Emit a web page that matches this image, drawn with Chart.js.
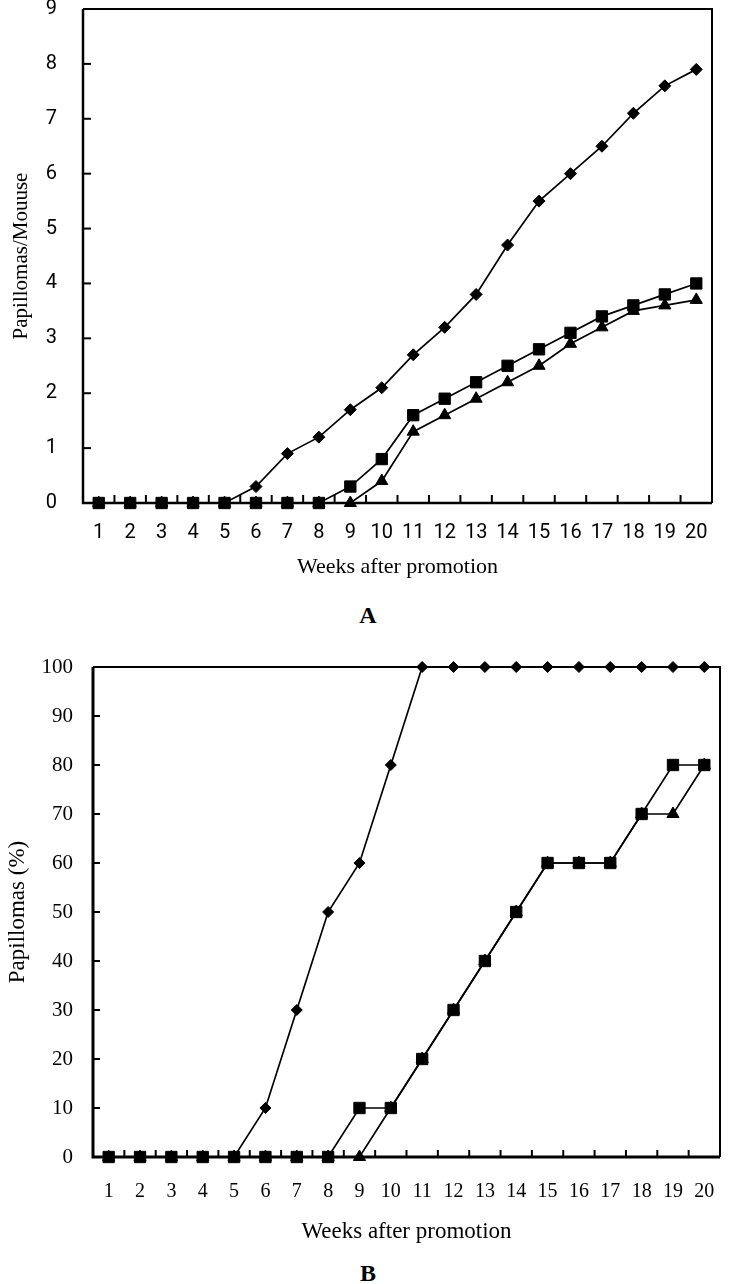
<!DOCTYPE html>
<html>
<head>
<meta charset="utf-8">
<script src="https://cdn.jsdelivr.net/npm/chart.js@4/dist/chart.umd.min.js"></script>
<style>
  html, body { margin: 0; padding: 0; background: #fff; }
  #page { position: relative; width: 729px; height: 1284px; overflow: hidden; }
  .box { position: absolute; left: 0; width: 729px; }
  .letter {
    position: absolute; width: 80px; margin-left: -40px; text-align: center;
    font-family: "Liberation Serif", "Times New Roman", serif; font-weight: bold; font-size: 24px;
    line-height: 24px; color: #000;
  }
</style>
</head>
<body>
<div id="page">
  <div class="box" style="top:0; height:590px;"><canvas id="chartA"></canvas></div>
  <div class="letter" style="left:368px; top:603px;">A</div>
  <div class="box" style="top:640px; height:612px;"><canvas id="chartB"></canvas></div>
  <div class="letter" style="left:368px; top:1261px;">B</div>
</div>
<script>
// weeks after promotion
const weeks = ['1','2','3','4','5','6','7','8','9','10','11','12','13','14','15','16','17','18','19','20'];

// A: papillomas per mouse
const aDiamond  = [0, 0, 0, 0, 0, 0.3, 0.9, 1.2, 1.7, 2.1, 2.7, 3.2, 3.8, 4.7, 5.5, 6.0, 6.5, 7.1, 7.6, 7.9];
const aSquare   = [0, 0, 0, 0, 0, 0, 0, 0, 0.3, 0.8, 1.6, 1.9, 2.2, 2.5, 2.8, 3.1, 3.4, 3.6, 3.8, 4.0];
const aTriangle = [0, 0, 0, 0, 0, 0, 0, 0, 0, 0.4, 1.3, 1.6, 1.9, 2.2, 2.5, 2.9, 3.2, 3.5, 3.6, 3.7];

// B: papilloma incidence (%)
const bDiamond  = [0, 0, 0, 0, 0, 10, 30, 50, 60, 80, 100, 100, 100, 100, 100, 100, 100, 100, 100, 100];
const bSquare   = [0, 0, 0, 0, 0, 0, 0, 0, 10, 10, 20, 30, 40, 50, 60, 60, 60, 70, 80, 80];
const bTriangle = [0, 0, 0, 0, 0, 0, 0, 0, 0, 10, 20, 30, 40, 50, 60, 60, 60, 70, 70, 80];

const SERIF = '"Liberation Serif", "Times New Roman", serif';
const NARROW = '"Liberation Sans Narrow", "Arial Narrow", "Roboto", sans-serif';

// box around the plot with tick marks pointing inwards
const framePlugin = {
    id: 'frame',
    beforeDatasetsDraw(chart, args, opts) {
        const { ctx, chartArea: a, scales: { x, y } } = chart;
        ctx.save();
        ctx.strokeStyle = '#000';
        ctx.lineCap = 'butt';

        // tick marks
        ctx.lineWidth = 2;
        const tl = opts.tickLength || 8;
        y.ticks.forEach(t => {
            const py = y.getPixelForValue(t.value);
            if (Math.abs(py - a.top) < 1 || Math.abs(py - a.bottom) < 1) return;
            ctx.beginPath();
            ctx.moveTo(a.left, py);
            ctx.lineTo(a.left + tl, py);
            ctx.stroke();
        });
        for (let i = 0; i < weeks.length - 1; i++) {
            const px = (x.getPixelForValue(i) + x.getPixelForValue(i + 1)) / 2;
            ctx.beginPath();
            ctx.moveTo(px, a.bottom);
            ctx.lineTo(px, a.bottom - tl);
            ctx.stroke();
        }

        // top and right
        ctx.lineWidth = opts.thin || 2;
        ctx.beginPath();
        ctx.moveTo(a.left, a.top);
        ctx.lineTo(a.right, a.top);
        ctx.lineTo(a.right, a.bottom);
        ctx.stroke();

        // axes
        ctx.lineWidth = opts.thick || 2.5;
        ctx.beginPath();
        ctx.moveTo(a.left, a.top);
        ctx.lineTo(a.left, a.bottom);
        ctx.lineTo(a.right, a.bottom);
        ctx.stroke();
        ctx.restore();
    }
};

function series(data, style, radius, order) {
    return {
        data: data,
        borderColor: '#000',
        backgroundColor: '#000',
        borderWidth: 1.7,
        pointStyle: style,
        pointRadius: radius,
        pointHoverRadius: radius,
        pointBorderWidth: 1,
        pointBackgroundColor: '#000',
        pointBorderColor: '#000',
        tension: 0,
        clip: false,
        order: order
    };
}

function makeChart(id, cfg) {
    return new Chart(document.getElementById(id), {
        type: 'line',
        data: {
            labels: weeks,
            datasets: [
                series(cfg.diamond, 'rectRot', cfg.diamondR, 2),
                series(cfg.triangle, 'triangle', cfg.triR, 1),
                series(cfg.square, 'rect', cfg.squareR, 0)
            ]
        },
        options: {
            responsive: true,
            maintainAspectRatio: false,
            animation: false,
            events: [],
            layout: { padding: cfg.padding },
            plugins: {
                legend: { display: false },
                tooltip: { enabled: false },
                frame: cfg.frame
            },
            scales: {
                x: {
                    type: 'category',
                    offset: true,
                    grid: { display: false, drawTicks: false },
                    border: { display: false },
                    ticks: {
                        color: '#000',
                        font: cfg.xTickFont,
                        padding: cfg.xTickPad,
                        maxRotation: 0,
                        autoSkip: false
                    },
                    title: {
                        display: true,
                        text: 'Weeks after promotion',
                        color: '#000',
                        font: { family: SERIF, size: cfg.xTitleSize },
                        padding: { top: 0, bottom: cfg.xTitlePad }
                    },
                    afterFit(s) {
                        s.height = cfg.xHeight;
                        s.paddingLeft = 0; s.paddingRight = 0;
                    }
                },
                y: {
                    min: cfg.yMin,
                    max: cfg.yMax,
                    grid: { display: false, drawTicks: false },
                    border: { display: false },
                    ticks: {
                        stepSize: cfg.yStep,
                        color: '#000',
                        font: cfg.yTickFont,
                        padding: cfg.yTickPad
                    },
                    title: {
                        display: true,
                        text: cfg.yTitle,
                        color: '#000',
                        font: { family: SERIF, size: cfg.yTitleSize },
                        padding: { top: cfg.yTitlePad, bottom: 0 }
                    },
                    afterFit(s) {
                        s.width = cfg.yWidth;
                        s.paddingTop = 0; s.paddingBottom = 0;
                    }
                }
            }
        },
        plugins: [framePlugin]
    });
}

makeChart('chartA', {
    diamond: aDiamond, square: aSquare, triangle: aTriangle,
    diamondR: 6, squareR: 8, triR: 7,
    padding: { top: 8, right: 17, bottom: 0, left: 0 },
    frame: { tickLength: 8, thick: 2.5, thin: 2 },
    xTickFont: { family: NARROW, size: 20 },
    xTickPad: 18,
    xTitleSize: 22,
    xTitlePad: 10,
    xHeight: 87,
    yMin: 0, yMax: 9, yStep: 1,
    yTickFont: { family: NARROW, size: 20 },
    yTickPad: 26,
    yTitle: 'Papillomas/Mouuse',
    yTitleSize: 21,
    yTitlePad: 9,
    yWidth: 83
});

makeChart('chartB', {
    diamond: bDiamond, square: bSquare, triangle: bTriangle,
    diamondR: 5.5, squareR: 8, triR: 7,
    padding: { top: 27, right: 6, bottom: 0, left: 0 },
    frame: { tickLength: 7, thick: 3, thin: 2 },
    xTickFont: { family: SERIF, size: 20 },
    xTickPad: 23,
    xTitleSize: 23,
    xTitlePad: 6,
    xHeight: 95,
    yMin: 0, yMax: 100, yStep: 10,
    yTickFont: { family: SERIF, size: 21 },
    yTickPad: 20,
    yTitle: 'Papillomas (%)',
    yTitleSize: 23,
    yTitlePad: 4,
    yWidth: 93
});
</script>
</body>
</html>
